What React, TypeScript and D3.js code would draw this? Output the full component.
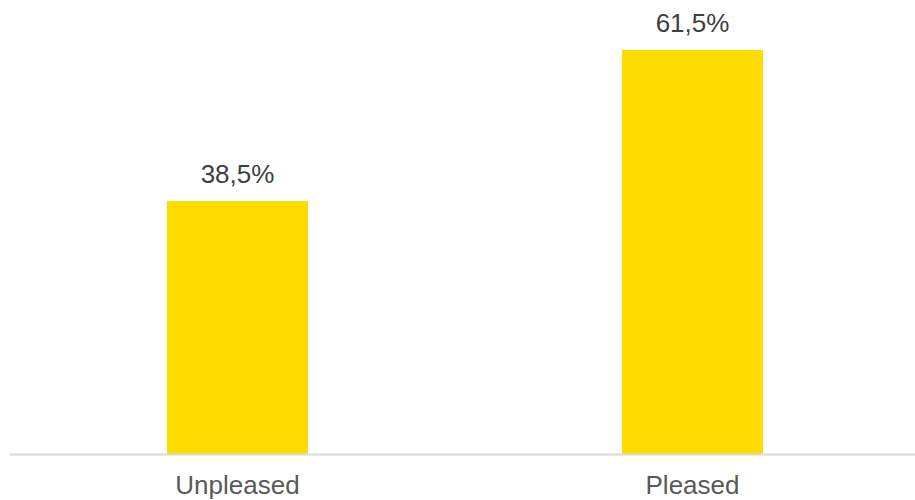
import React from "react";
import * as d3 from "d3";

const categories = ["Unpleased", "Pleased"];
const values = [38.5, 61.5];
const valueLabels = ["38,5%", "61,5%"];

const W = 915;
const H = 500;

export default function App() {
  const x = d3.scaleBand<string>().domain(categories).range([10, 920]).paddingInner(0.69).paddingOuter(0.345);
  const y = d3.scaleLinear().domain([0, 61.5]).range([454, 50]);
  const data = categories.map((c, i) => ({ c, v: values[i], l: valueLabels[i] }));
  return (
    <svg width={W} height={H} style={{ position: "absolute", left: 0, top: 0, display: "block" }}>
      <rect width={W} height={H} fill="#ffffff" />
      {data.map((d) => (
        <g key={d.c}>
          <rect x={x(d.c)} y={y(d.v)} width={x.bandwidth()} height={y(0) - y(d.v)} fill="#FFDC00" />
          <text
            x={(x(d.c) as number) + x.bandwidth() / 2}
            y={y(d.v) - 18}
            textAnchor="middle"
            fontFamily="Liberation Sans, Arial, sans-serif"
            fontSize={26}
            fill="#404040"
          >
            {d.l}
          </text>
          <text
            x={(x(d.c) as number) + x.bandwidth() / 2}
            y={494}
            textAnchor="middle"
            fontFamily="Liberation Sans, Arial, sans-serif"
            fontSize={26}
            fill="#595959"
          >
            {d.c}
          </text>
        </g>
      ))}
      <line x1={10} x2={915} y1={y(0) + 0.5} y2={y(0) + 0.5} stroke="#d9d9d9" strokeWidth={2} />
    </svg>
  );
}
